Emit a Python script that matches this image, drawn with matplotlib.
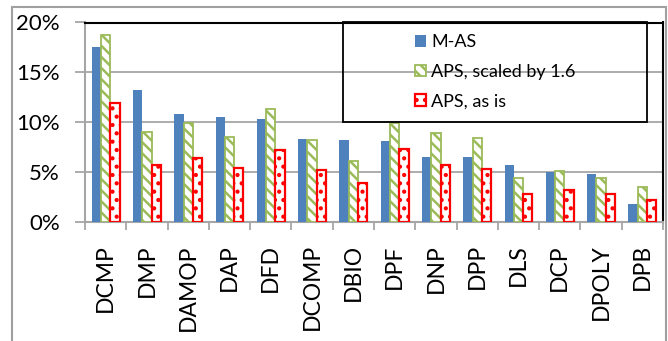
import matplotlib.pyplot as plt
import numpy as np
from matplotlib.patches import Rectangle

plt.rcParams['font.family'] = ['Lato', 'DejaVu Sans']
plt.rcParams['hatch.linewidth'] = 1.8

# benchmark groups and their shares
categories = ['DCMP', 'DMP', 'DAMOP', 'DAP', 'DFD', 'DCOMP', 'DBIO',
              'DPF', 'DNP', 'DPP', 'DLS', 'DCP', 'DPOLY', 'DPB']
m_as = [17.5, 13.2, 10.8, 10.5, 10.3, 8.3, 8.2, 8.1, 6.5, 6.5, 5.7, 5.0, 4.8, 1.8]
aps_scaled = [18.7, 9.0, 9.9, 8.5, 11.3, 8.2, 6.1, 9.9, 8.9, 8.4, 4.4, 5.1, 4.4, 3.5]
aps_as_is = [11.9, 5.7, 6.4, 5.4, 7.2, 5.2, 3.9, 7.3, 5.7, 5.3, 2.8, 3.2, 2.8, 2.2]
yticks = [0, 5, 10, 15, 20]

W, H = 668, 341
fig = plt.figure(figsize=(W / 100, H / 100), dpi=100)
ax = fig.add_axes([85 / W, 1 - 222 / H, (663 - 85) / W, (222 - 22.5) / H])

x = np.arange(len(categories))
bw = 0.225
ax.bar(x - bw, m_as, bw, color='#4F81BD', label='M-AS', zorder=3)
ax.bar(x, aps_scaled, bw, facecolor='white', edgecolor='#9BBB59', hatch='\\\\\\',
       linewidth=1.3, label='APS, scaled by 1.6', zorder=3)
ax.bar(x + bw, aps_as_is, bw, facecolor='white', edgecolor='#FF0000', hatch='..',
       linewidth=1.6, label='APS, as is', zorder=3)

ax.set_xlim(-0.5, len(categories) - 0.5)
ax.set_ylim(0, 20)
ax.set_yticks(yticks)
ax.set_yticklabels([f'{v}%' for v in yticks], fontsize=16)
ax.yaxis.grid(True, color='#A6A6A6', linewidth=1.3, zorder=0)
ax.set_axisbelow(True)
ax.tick_params(axis='y', length=7, width=1.3, color='#A6A6A6', pad=11)

ax.set_xticks(x)
ax.set_xticklabels(categories, rotation=90, fontsize=16.5, va='top')
ax.tick_params(axis='x', which='major', length=0, pad=16)
ax.set_xticks(np.arange(-0.5, len(categories)), minor=True)
ax.tick_params(axis='x', which='minor', length=6, width=1.3, color='#A6A6A6')

for side in ['left', 'bottom']:
    ax.spines[side].set_color('#A6A6A6')
    ax.spines[side].set_linewidth(1.5)
for side in ['top', 'right']:
    ax.spines[side].set_color('black')
    ax.spines[side].set_linewidth(1.5)

# legend with a hand-drawn frame
leg = fig.legend(loc='center', bbox_to_anchor=(495 / W, 1 - 72 / H), frameon=False,
                 fontsize=13, handlelength=0.6, handleheight=0.6,
                 handletextpad=0.3, labelspacing=0.75)
fig.add_artist(Rectangle((343 / W, 1 - 122 / H), (647 - 343) / W, (122 - 22.5) / H,
                         transform=fig.transFigure, fill=False, edgecolor='black',
                         linewidth=1.3, zorder=5))

# outer chart border
fig.add_artist(Rectangle((12 / W, -0.05), (666 - 12) / W, 1.05 - 7 / H,
                         transform=fig.transFigure, fill=False, edgecolor='#A0A0A0',
                         linewidth=1.5))

fig.savefig('out.png', dpi=100)
